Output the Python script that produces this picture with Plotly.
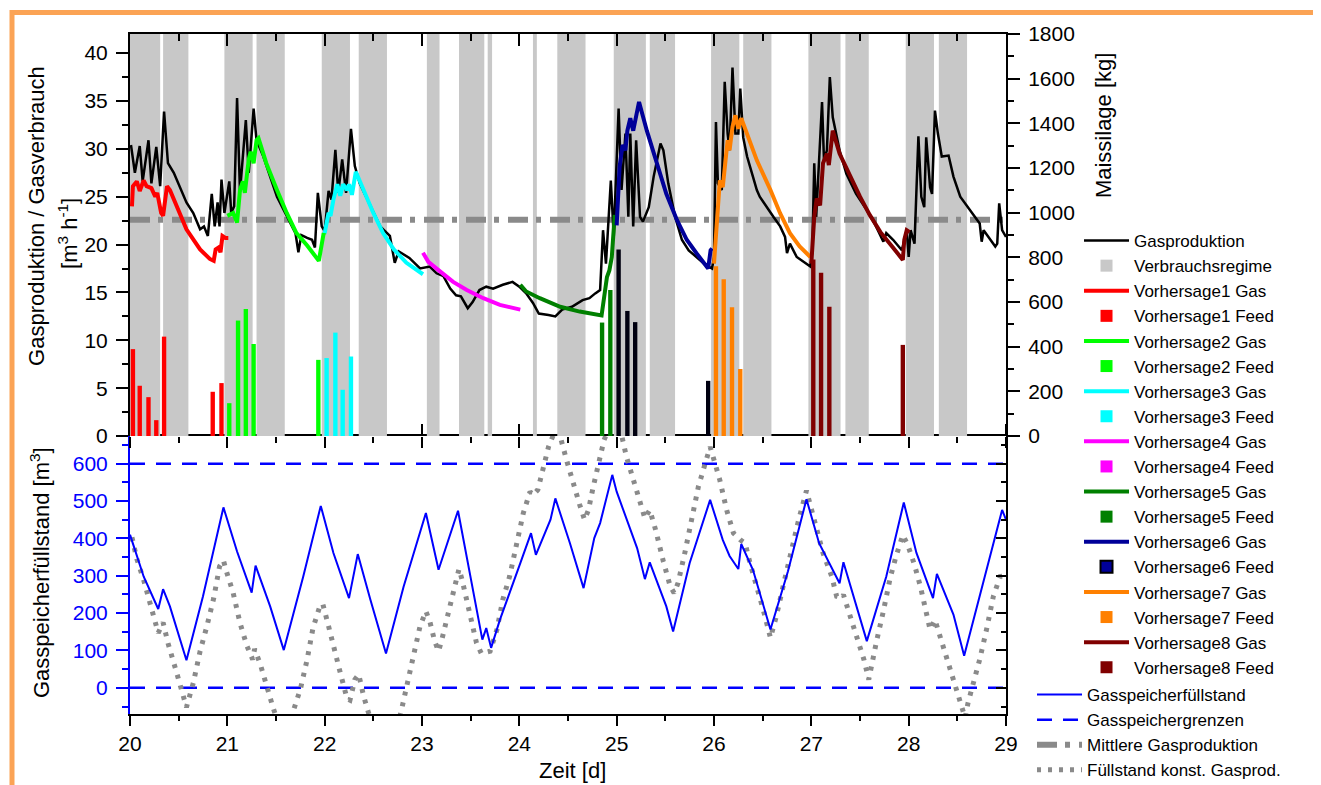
import plotly.graph_objects as go

# ---------------- data ----------------
band_start = [20.0, 20.34, 20.97, 21.30, 21.97, 22.35, 23.05, 23.38, 23.675, 24.14, 24.39, 24.97, 25.34, 25.97, 26.30, 26.97, 27.35, 27.97, 28.31]
band_end   = [20.31, 20.60, 21.26, 21.59, 22.26, 22.64, 23.18, 23.64, 23.72, 24.18, 24.68, 25.30, 25.60, 26.26, 26.59, 27.30, 27.59, 28.26, 28.60]
band_top = 42

gas_t = [20.01, 20.05, 20.10, 20.13, 20.19, 20.22, 20.27, 20.31, 20.35, 20.39, 20.45, 20.51, 20.58, 20.65, 20.72, 20.76, 20.80, 20.84, 20.87, 20.90,
         20.92, 20.94, 20.97, 21.02, 21.04, 21.07, 21.10, 21.13, 21.19, 21.22, 21.27, 21.30, 21.37, 21.51, 21.61, 21.70, 21.73, 21.76, 21.82, 21.87,
         21.90, 21.93, 21.97, 22.00, 22.04, 22.07, 22.11, 22.14, 22.18, 22.22, 22.27, 22.31, 22.36, 22.47, 22.57, 22.67, 22.72, 22.76, 22.87, 22.98,
         23.08, 23.15, 23.22, 23.29, 23.35, 23.40, 23.47, 23.52, 23.59, 23.66, 23.73, 23.83, 23.93, 24.00, 24.07, 24.14, 24.20, 24.30, 24.37, 24.44,
         24.54, 24.65, 24.72, 24.78, 24.83, 24.86, 24.89, 24.94, 24.97, 25.02, 25.05, 25.09, 25.12, 25.14, 25.17, 25.20, 25.24, 25.27, 25.33, 25.38,
         25.45, 25.48, 25.53, 25.60, 25.67, 25.74, 25.82, 25.91, 25.98, 26.00, 26.02, 26.04, 26.08, 26.11, 26.14, 26.16, 26.19, 26.22, 26.25, 26.27,
         26.30, 26.34, 26.40, 26.44, 26.47, 26.54, 26.61, 26.68, 26.73, 26.75, 26.78, 26.85, 26.92, 26.99, 27.01, 27.03, 27.05, 27.11, 27.13, 27.16,
         27.19, 27.22, 27.29, 27.36, 27.46, 27.57, 27.65, 27.72, 27.74, 27.77, 27.84, 27.93, 27.96, 27.98, 28.00, 28.02, 28.06, 28.10, 28.13, 28.16,
         28.18, 28.22, 28.24, 28.27, 28.30, 28.34, 28.41, 28.46, 28.53, 28.63, 28.70, 28.73, 28.75, 28.77, 28.84, 28.89, 28.91, 28.93, 28.96, 29.00]
gas_v = [30.4, 27.5, 30.3, 26.6, 30.9, 26.4, 30.2, 26.1, 33.9, 28.5, 27.5, 26.1, 24.4, 23.3, 21.6, 21.9, 20.9, 25.3, 21.9, 24.4,
         21.9, 26.8, 23.3, 26.6, 23.3, 24.0, 35.3, 25.5, 33.0, 27.5, 34.2, 30.9, 29.2, 25.0, 23.0, 21.2, 19.2, 21.0, 20.7, 20.5,
         19.7, 25.4, 21.9, 21.4, 25.6, 24.7, 29.9, 25.4, 28.9, 25.4, 32.1, 28.2, 26.4, 24.0, 21.9, 20.9, 18.1, 19.3, 18.6, 17.5,
         17.7, 17.0, 16.7, 15.4, 14.7, 14.6, 13.35, 14.0, 15.25, 15.6, 15.4, 15.8, 16.1, 15.6, 14.9, 13.9, 12.8, 12.65, 12.5, 13.2,
         13.5, 14.2, 14.4, 14.9, 15.25, 21.5, 18.0, 26.7, 20.8, 34.2, 25.7, 31.6, 22.9, 31.6, 21.9, 30.9, 22.9, 22.4, 23.9, 27.1,
         30.55, 29.85, 26.4, 22.9, 20.5, 19.4, 18.7, 17.9, 17.5, 18.7, 32.8, 26.4, 25.7, 37.0, 31.6, 29.85, 38.5, 31.6, 31.6, 36.3,
         31.2, 29.2, 27.1, 25.7, 25.0, 23.9, 22.9, 21.9, 20.8, 19.1, 20.1, 18.7, 18.2, 17.7, 19.4, 28.5, 22.9, 34.9, 28.8, 29.85,
         37.5, 33.3, 29.85, 27.4, 25.3, 23.6, 22.2, 20.8, 20.3, 21.2, 20.5, 19.4, 20.5, 21.5, 18.7, 21.5, 20.1, 31.3, 25.0, 23.9,
         31.2, 26.0, 25.3, 34.0, 31.6, 29.2, 29.3, 27.1, 25.0, 23.6, 22.55, 22.2, 20.3, 21.5, 20.5, 19.8, 20.1, 24.3, 21.5, 20.8]

mean_gas = 22.6

v1_t = [20.02, 20.03, 20.07, 20.10, 20.14, 20.17, 20.22, 20.26, 20.28, 20.32, 20.34, 20.38, 20.41, 20.48, 20.58, 20.72, 20.82, 20.86, 20.88, 20.91, 20.93, 20.95, 20.98, 21.01]
v1_v = [24.0, 26.1, 26.6, 25.6, 26.7, 26.1, 25.9, 25.0, 25.4, 23.3, 23.0, 26.1, 25.7, 24.0, 21.6, 19.5, 18.5, 18.3, 19.5, 19.7, 19.2, 20.9, 20.7, 20.7]
v2_t = [21.00, 21.06, 21.10, 21.13, 21.16, 21.18, 21.22, 21.24, 21.27, 21.30, 21.32, 21.40, 21.51, 21.61, 21.71, 21.82, 21.94, 21.99, 22.00]
v2_v = [23.0, 23.3, 22.3, 25.7, 26.6, 25.4, 28.9, 29.7, 28.5, 30.9, 31.1, 28.5, 25.7, 23.3, 21.2, 19.9, 18.3, 21.2, 21.0]
v3_t = [22.00, 22.04, 22.06, 22.09, 22.13, 22.16, 22.19, 22.23, 22.25, 22.28, 22.32, 22.40, 22.50, 22.60, 22.71, 22.84, 23.01]
v3_v = [21.2, 23.3, 23.0, 24.7, 26.3, 25.1, 26.3, 25.7, 26.3, 25.2, 27.6, 25.7, 23.3, 21.2, 19.5, 18.1, 16.9]
v4_t = [23.01, 23.065, 23.185, 23.32, 23.46, 23.63, 23.80, 24.01]
v4_v = [19.15, 18.2, 17.2, 16.1, 15.25, 14.4, 13.7, 13.2]
v5_t = [24.01, 24.07, 24.21, 24.42, 24.62, 24.845, 24.90, 24.925, 24.95, 24.98]
v5_v = [15.8, 15.1, 14.4, 13.5, 13.0, 12.6, 16.6, 17.3, 18.7, 23.1]
v6_t = [25.00, 25.03, 25.06, 25.09, 25.11, 25.14, 25.17, 25.23, 25.31, 25.41, 25.51, 25.62, 25.72, 25.82, 25.94, 25.965, 25.98]
v6_v = [22.0, 28.1, 30.4, 29.85, 31.9, 33.2, 31.9, 34.9, 31.9, 28.5, 25.3, 22.55, 20.5, 19.1, 17.5, 19.4, 19.6]
v7_t = [26.00, 26.03, 26.06, 26.09, 26.11, 26.14, 26.16, 26.19, 26.22, 26.25, 26.28, 26.34, 26.44, 26.58, 26.68, 26.78, 26.88, 26.99]
v7_v = [18.0, 22.9, 26.7, 26.0, 27.8, 30.9, 29.85, 32.3, 33.5, 32.1, 33.2, 31.6, 28.8, 25.7, 23.25, 21.2, 19.8, 18.7]
v8_t = [27.00, 27.03, 27.055, 27.09, 27.12, 27.16, 27.18, 27.22, 27.29, 27.40, 27.50, 27.60, 27.71, 27.83, 27.94, 27.955, 27.98, 28.01]
v8_v = [18.0, 22.9, 24.8, 24.1, 28.5, 29.5, 28.3, 31.9, 29.5, 27.1, 25.0, 23.1, 21.3, 19.8, 18.4, 20.5, 21.5, 21.3]

f1_t = [20.03, 20.10, 20.19, 20.27, 20.35, 20.85, 20.94]
f1_kg = [389, 225, 174, 71, 445, 198, 237]
f2_t = [21.02, 21.11, 21.19, 21.27, 21.935]
f2_kg = [147, 517, 569, 412, 341]
f3_t = [22.02, 22.11, 22.185, 22.27]
f3_kg = [349, 463, 207, 356]
f4_t = []
f4_kg = []
f5_t = [24.85, 24.935]
f5_kg = [508, 654]
f6_t = [25.02, 25.11, 25.19, 25.94]
f6_kg = [835, 560, 510, 247]
f7_t = [26.02, 26.10, 26.185, 26.27]
f7_kg = [760, 702, 576, 300]
f8_t = [27.02, 27.10, 27.185, 27.94]
f8_kg = [790, 731, 579, 408]

store_t = [20.0, 20.14, 20.29, 20.34, 20.41, 20.58, 20.75, 20.96, 21.10, 21.25, 21.29, 21.44, 21.58, 21.78, 21.96, 22.09, 22.25, 22.34, 22.47, 22.63,
           22.81, 23.04, 23.17, 23.37, 23.62, 23.66, 23.71, 23.80, 24.01, 24.12, 24.17, 24.32, 24.37, 24.52, 24.66, 24.77, 24.83, 24.955, 25.0, 25.10,
           25.21, 25.29, 25.34, 25.51, 25.58, 25.75, 25.96, 26.09, 26.16, 26.25, 26.28, 26.40, 26.58, 26.76, 26.95, 27.08, 27.18, 27.29, 27.33, 27.57,
           27.77, 27.95, 28.08, 28.25, 28.29, 28.46, 28.57, 28.73, 28.96, 29.0]
store_v = [410, 298, 211, 264, 218, 74, 245, 483, 365, 255, 327, 218, 101, 298, 487, 361, 240, 358, 236, 92,
           270, 468, 316, 474, 129, 160, 107, 182, 334, 414, 356, 450, 507, 387, 267, 401, 441, 570, 525, 454,
           374, 291, 336, 218, 151, 334, 503, 396, 353, 318, 385, 316, 156, 312, 505, 387, 334, 280, 336, 125,
           298, 496, 361, 240, 305, 196, 86, 245, 476, 450]

store_limits = [0, 600]

const_t = [20.02, 20.07, 20.14, 20.20, 20.26, 20.29, 20.34, 20.39, 20.48, 20.58, 20.65, 20.72, 20.79, 20.86, 20.92, 20.96, 20.99, 21.06, 21.13, 21.20,
           21.26, 21.28, 21.34, 21.40, 21.47, 21.58, 21.68, 21.75, 21.82, 21.88, 21.95, 21.98, 22.04, 22.09, 22.15, 22.23, 22.26, 22.31, 22.35, 22.40,
           22.43, 22.63, 22.79, 22.84, 22.91, 22.98, 23.04, 23.08, 23.13, 23.17, 23.20, 23.25, 23.30, 23.36, 23.38, 23.41, 23.46, 23.51, 23.56, 23.61,
           23.70, 23.77, 23.83, 23.90, 23.97, 24.04, 24.11, 24.14, 24.19, 24.25, 24.30, 24.37, 24.43, 24.49, 24.55, 24.62, 24.67, 24.71, 24.76, 24.83,
           24.87, 24.96, 25.05, 25.10, 25.17, 25.24, 25.29, 25.34, 25.40, 25.48, 25.55, 25.59, 25.63, 25.70, 25.77, 25.84, 25.91, 25.96, 25.99, 26.06,
           26.13, 26.20, 26.27, 26.32, 26.37, 26.44, 26.51, 26.58, 26.64, 26.71, 26.78, 26.87, 26.95, 27.05, 27.12, 27.21, 27.26, 27.31, 27.33, 27.40,
           27.47, 27.54, 27.59, 27.62, 27.67, 27.74, 27.81, 27.87, 27.94, 27.99, 28.06, 28.12, 28.17, 28.22, 28.27, 28.32, 28.39, 28.46, 28.53, 28.58,
           28.61, 28.67, 28.73, 28.80, 28.87, 28.94, 29.0]
const_v = [403, 345, 289, 227, 174, 147, 175, 120, 40, -52, 13, 98, 165, 240, 325, 341, 312, 254, 174, 113,
           76, 104, 62, 4, -53, -140, -65, -4, 76, 160, 218, 225, 165, 107, 51, -29, -33, 22, 36, -22,
           -49, -225, -58, 0, 85, 165, 205, 178, 125, 98, 125, 182, 240, 298, 318, 291, 236, 174, 120, 92,
           98, 156, 236, 298, 383, 467, 525, 516, 530, 592, 645, 690, 663, 605, 547, 490, 450, 476, 539, 619,
           663, 720, 677, 619, 556, 499, 454, 476, 423, 338, 272, 254, 280, 361, 454, 539, 601, 645, 619, 556,
           476, 414, 396, 387, 334, 272, 205, 134, 191, 272, 356, 450, 528, 423, 361, 298, 245, 240, 249, 191,
           134, 76, 22, 67, 125, 205, 294, 352, 409, 383, 329, 272, 209, 156, 182, 138, 76, 18, -40, -80,
           -40, 13, 76, 156, 245, 298, 300]

x_range = [20, 29]

# ---------------- styles ----------------
FONT = "Liberation Sans, Arial, sans-serif"
colors = ["#FF0000", "#00FF00", "#00FFFF", "#FF00FF", "#008000", "#000099", "#FF8000", "#800000"]
grey_band = "#C8C8C8"
grey_line = "#8A8A8A"
blue = "#0000FF"

fig = go.Figure()

# bands (Verbrauchsregime)
fig.add_trace(go.Bar(
    x=[(a + b) / 2 for a, b in zip(band_start, band_end)],
    y=[band_top] * len(band_start),
    width=[b - a for a, b in zip(band_start, band_end)],
    marker=dict(color=grey_band, line=dict(width=0)),
    name="Verbrauchsregime", xaxis="x2", yaxis="y2", legendrank=2, legend="legend",
    hoverinfo="skip"))

# mean gas production
fig.add_trace(go.Scatter(
    x=x_range, y=[mean_gas, mean_gas], mode="lines",
    line=dict(color=grey_line, width=6, dash="20px,8px,5px,9px"),
    name="Mittlere Gasproduktion", xaxis="x2", yaxis="y2", legend="legend2", legendrank=3))

# Gasproduktion
fig.add_trace(go.Scatter(
    x=gas_t, y=gas_v, mode="lines", line=dict(color="black", width=2.5),
    name="Gasproduktion", xaxis="x2", yaxis="y2", legendrank=1, legend="legend"))

gas_series = [(v1_t, v1_v), (v2_t, v2_v), (v3_t, v3_v), (v4_t, v4_v),
              (v5_t, v5_v), (v6_t, v6_v), (v7_t, v7_v), (v8_t, v8_v)]
feed_series = [(f1_t, f1_kg), (f2_t, f2_kg), (f3_t, f3_kg), (f4_t, f4_kg),
               (f5_t, f5_kg), (f6_t, f6_kg), (f7_t, f7_kg), (f8_t, f8_kg)]

for i, (t, v) in enumerate(gas_series):
    fig.add_trace(go.Scatter(
        x=t, y=v, mode="lines", line=dict(color=colors[i], width=4),
        name=f"Vorhersage{i+1} Gas", xaxis="x2", yaxis="y2",
        legendrank=3 + 2 * i, legend="legend"))

for i, (t, kg) in enumerate(feed_series):
    name = f"Vorhersage{i+1} Feed"
    if i == 5:
        # thin bars with black outline look black; legend box navy with black border
        fig.add_trace(go.Bar(
            x=t, y=kg, width=0.045, marker=dict(color="#000010", line=dict(width=0)),
            name=name, xaxis="x2", yaxis="y3", showlegend=False))
        fig.add_trace(go.Bar(
            x=[None], y=[None], marker=dict(color="#000099", line=dict(color="black", width=2)),
            name=name, xaxis="x2", yaxis="y3", legendrank=4 + 2 * i, legend="legend"))
        continue
    fig.add_trace(go.Bar(
        x=t if t else [None], y=kg if kg else [None], width=0.045,
        marker=dict(color=colors[i], line=dict(width=0)),
        name=name, xaxis="x2", yaxis="y3",
        legendrank=4 + 2 * i, legend="legend"))

# bottom panel
fig.add_trace(go.Scatter(
    x=[x_range[0], x_range[1], None, x_range[0], x_range[1]],
    y=[store_limits[0], store_limits[0], None, store_limits[1], store_limits[1]],
    mode="lines", line=dict(color=blue, width=2.5, dash="15px,11px"),
    name="Gasspeichergrenzen", xaxis="x", yaxis="y", legend="legend2", legendrank=2))
fig.add_trace(go.Scatter(
    x=const_t, y=const_v, mode="lines",
    line=dict(color=grey_line, width=5, dash="4px,7px"),
    name="Füllstand konst. Gasprod.", xaxis="x", yaxis="y", legend="legend2", legendrank=4))
fig.add_trace(go.Scatter(
    x=store_t, y=store_v, mode="lines", line=dict(color=blue, width=2),
    name="Gasspeicherfüllstand", xaxis="x", yaxis="y", legend="legend2", legendrank=1))

# invisible helpers so overlay axes are drawn
fig.add_trace(go.Scatter(x=[20], y=[0], mode="markers", marker=dict(opacity=0),
                         xaxis="x3", yaxis="y2", showlegend=False, hoverinfo="skip"))
fig.add_trace(go.Scatter(x=[20], y=[0], mode="markers", marker=dict(opacity=0),
                         xaxis="x", yaxis="y4", showlegend=False, hoverinfo="skip"))

split = 0.4088
tickfont = dict(family=FONT, size=21, color="black")
legend_font = dict(family=FONT, size=17, color="black")

# page body has an 8px margin -> figure is sized/offset to compensate
fig.update_layout(
    width=1313, height=777,
    margin=dict(l=122, r=315, t=26, b=71, autoexpand=False),
    paper_bgcolor="white", plot_bgcolor="white",
    font=dict(family=FONT, size=17, color="black"),
    barmode="overlay",
    xaxis=dict(domain=[0, 1], range=x_range, anchor="y", dtick=1, tick0=20,
               ticks="outside", ticklen=10, tickwidth=2, tickcolor="black",
               minor=dict(dtick=0.5, ticklen=5, tickwidth=2, tickcolor="black", ticks="outside"),
               showline=True, linecolor="black", linewidth=2, mirror="ticks",
               showgrid=False, zeroline=False, tickfont=tickfont),
    yaxis=dict(domain=[0, split], range=[-70, 674], anchor="x", dtick=100, tick0=0,
               ticks="outside", ticklen=12, tickwidth=2, tickcolor=blue,
               minor=dict(dtick=50, ticklen=6, tickwidth=2, tickcolor=blue, ticks="outside"),
               showline=True, linecolor=blue, linewidth=2, showgrid=False, zeroline=False,
               tickfont=dict(family=FONT, size=21, color=blue), ticklabelstandoff=4),
    yaxis4=dict(overlaying="y", side="right", anchor="x", range=[-70, 674], dtick=100, tick0=0,
                ticks="inside", ticklen=10, tickwidth=2, tickcolor="black",
                minor=dict(dtick=50, ticklen=5, tickwidth=2, tickcolor="black", ticks="inside"),
                showline=True, linecolor="black", linewidth=2, showticklabels=False,
                showgrid=False, zeroline=False),
    xaxis2=dict(domain=[0, 1], range=x_range, anchor="y2", dtick=1, tick0=20,
                ticks="outside", ticklen=11, tickwidth=2, tickcolor="black",
                minor=dict(dtick=0.5, ticklen=6, tickwidth=2, tickcolor="black", ticks="outside"),
                showline=False, showticklabels=False,
                showgrid=False, zeroline=False),
    xaxis3=dict(overlaying="x2", side="top", anchor="y2", range=x_range, dtick=1, tick0=20,
                ticks="inside", ticklen=12, tickwidth=2, tickcolor="black",
                minor=dict(dtick=0.5, ticklen=7, tickwidth=2, tickcolor="black", ticks="inside"),
                showline=True, linecolor="black", linewidth=2, showticklabels=False,
                showgrid=False, zeroline=False),
    yaxis2=dict(domain=[split, 1], range=[0, 42], anchor="x2", dtick=5, tick0=0,
                ticks="outside", ticklen=12, tickwidth=2, tickcolor="black",
                minor=dict(dtick=2.5, ticklen=6, tickwidth=2, tickcolor="black", ticks="outside"),
                showline=True, linecolor="black", linewidth=2, showgrid=False, zeroline=False,
                tickfont=tickfont, ticklabelstandoff=4),
    yaxis3=dict(overlaying="y2", side="right", anchor="x2", range=[0, 1800], dtick=200, tick0=0,
                ticks="outside", ticklen=12, tickwidth=2, tickcolor="black",
                minor=dict(dtick=100, ticklen=6, tickwidth=2, tickcolor="black", ticks="outside"),
                showline=True, linecolor="black", linewidth=2, showgrid=False, zeroline=False,
                tickfont=tickfont, ticklabelstandoff=4),
    legend=dict(xref="container", yref="container", x=0.8157, y=0.7233,
                xanchor="left", yanchor="top", bgcolor="rgba(0,0,0,0)", maxheight=560,
                font=legend_font, tracegroupgap=0, itemwidth=45, traceorder="normal"),
    legend2=dict(xref="container", yref="container", x=0.7799, y=0.139,
                 xanchor="left", yanchor="top", bgcolor="rgba(0,0,0,0)", maxheight=200,
                 font=legend_font, tracegroupgap=0, itemwidth=45, traceorder="normal"),
    showlegend=True,
)

ann_font = dict(family=FONT, size=22, color="black")
fig.add_annotation(text="Gasproduktion / Gasverbrauch", x=-0.1062, y=0.7324, xref="paper", yref="paper",
                   textangle=-90, showarrow=False, font=ann_font, xanchor="center", yanchor="middle")
fig.add_annotation(text="[m<sup>3</sup> h<sup>-1</sup>]", x=-0.0708, y=0.7074, xref="paper", yref="paper",
                   textangle=-90, showarrow=False, font=ann_font, xanchor="center", yanchor="middle")
fig.add_annotation(text="Maissilage [kg]", x=1.1107, y=0.866, xref="paper", yref="paper",
                   textangle=-90, showarrow=False, font=ann_font, xanchor="center", yanchor="middle")
fig.add_annotation(text="Gasspeicherfüllstand [m<sup>3</sup>]", x=-0.1027, y=0.2074, xref="paper", yref="paper",
                   textangle=-90, showarrow=False, font=ann_font, xanchor="center", yanchor="middle")
fig.add_annotation(text="Zeit [d]", x=0.5057, y=-0.0824, xref="paper", yref="paper",
                   showarrow=False, font=ann_font, xanchor="center", yanchor="middle")

# orange frame around figure
fig.add_shape(type="rect", xref="paper", yref="paper",
              x0=-0.1347, x1=1.3563, y0=-0.2, y1=1.0316,
              line=dict(color="rgb(251,163,85)", width=5), fillcolor="rgba(0,0,0,0)", layer="above")

fig.write_html("out.html")
